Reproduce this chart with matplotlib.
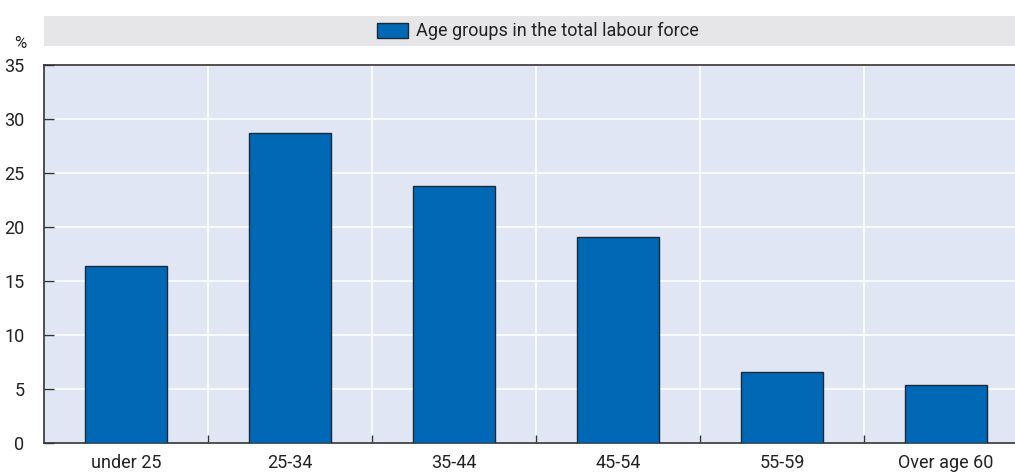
import matplotlib
matplotlib.use("Agg")
import matplotlib.pyplot as plt
from matplotlib import font_manager
from matplotlib.patches import Rectangle

categories = ["under 25", "25-34", "35-44", "45-54", "55-59", "Over age 60"]
share = [16.4, 28.7, 23.8, 19.1, 6.6, 5.4]
yticks = [0, 5, 10, 15, 20, 25, 30, 35]
series_name = "Age groups in the total labour force"

names = {f.name for f in font_manager.fontManager.ttflist}
family = ["Liberation Sans Narrow", "Roboto", "DejaVu Sans"]
family = [f for f in family if f in names] or ["DejaVu Sans"]
plt.rcParams["font.family"] = family

BAR = "#0068b5"
BG = "#e0e6f4"
BAND = "#e6e6e8"
TXT = "#222222"

W, H = 1015, 472
fig = plt.figure(figsize=(W / 100, H / 100), dpi=100)

# plot area (extends slightly past the right edge of the figure)
x0, x1, ytop, ybot = 44, 1028, 65, 443
ax = fig.add_axes([x0 / W, (H - ybot) / H, (x1 - x0) / W, (ybot - ytop) / H])
ax.set_facecolor(BG)

n = len(categories)
xs = list(range(n))
ax.bar(xs, share, width=0.5, color=BAR, edgecolor="#1a2a3a", linewidth=1.0, zorder=3)

ax.set_xlim(-0.5, n - 0.5)
ax.set_ylim(0, 35)
ax.set_yticks(yticks)
ax.set_yticklabels([str(v) for v in yticks], fontsize=13, color=TXT)
ax.yaxis.grid(True, color="white", linewidth=1.2, zorder=1)

# category boundaries as vertical gridlines and minor ticks
bounds = [i + 0.5 for i in range(n - 1)]
for b in bounds:
    ax.axvline(b, color="white", linewidth=1.2, zorder=1)
ax.set_xticks(xs)
ax.set_xticklabels(categories, fontsize=13, color=TXT)
ax.tick_params(axis="x", which="major", length=0, pad=8)
ax.set_xticks(bounds, minor=True)
ax.tick_params(axis="x", which="minor", direction="in", length=6, width=1, color="#333333")
ax.tick_params(axis="y", direction="in", length=7, width=1, color="#333333", pad=14)

for s in ["left", "bottom", "top"]:
    ax.spines[s].set_color("#333333")
    ax.spines[s].set_linewidth(1.2)
ax.spines["right"].set_visible(False)

# legend band above the plot
band = fig.add_axes([x0 / W, (H - 46) / H, (W - x0) / W, 30 / H])
band.set_xlim(0, W - x0)
band.set_ylim(0, 30)
band.axis("off")
band.add_patch(Rectangle((0, 0), W - x0, 30, facecolor=BAND, edgecolor="none"))
band.add_patch(Rectangle((377 - x0, 8), 31, 15, facecolor=BAR, edgecolor="#1a2a3a", linewidth=1))
band.text(416 - x0, 15, series_name, fontsize=13, color=TXT, va="center", ha="left")

fig.text(20 / W, (H - 44) / H, "%", fontsize=12, color=TXT, ha="center", va="center")

fig.savefig("out.png", dpi=100)
